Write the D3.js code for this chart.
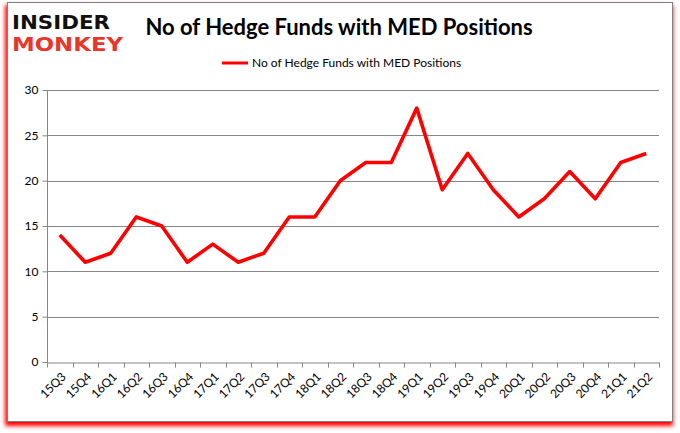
<!DOCTYPE html>
<html>
<head>
<meta charset="utf-8">
<script src="https://cdn.jsdelivr.net/npm/d3@7"></script>
<style>
  body { margin: 0; background: #fff; }
  text { font-family: Lato, "Open Sans", sans-serif; }
</style>
</head>
<body>
<svg id="chart" width="680" height="433"></svg>
<script>
const quarters = ["15Q3","15Q4","16Q1","16Q2","16Q3","16Q4","17Q1","17Q2","17Q3","17Q4",
                  "18Q1","18Q2","18Q3","18Q4","19Q1","19Q2","19Q3","19Q4","20Q1","20Q2",
                  "20Q3","20Q4","21Q1","21Q2"]
const funds = [14,11,12,16,15,11,13,11,12,16,16,20,22,22,28,19,23,19,16,18,21,18,22,23]
const yTicks = [0,5,10,15,20,25,30]

const margin = {top: 90, bottom: 71, left: 47, right: 21}
const width = 680, height = 433
const svg = d3.select("#chart")

// frame with red shadow
const defs = svg.append("defs")
defs.append("filter").attr("id", "shadow")
    .attr("x", "-5%").attr("y", "-5%").attr("width", "110%").attr("height", "110%")
    .append("feGaussianBlur").attr("stdDeviation", 2)
svg.append("rect").attr("x", 5).attr("y", 5).attr("width", 668).attr("height", 421)
    .style("fill", "#ff0000").attr("filter", "url(#shadow)")
svg.append("rect").attr("x", 7.5).attr("y", 2.5).attr("width", 665).attr("height", 419)
    .style("fill", "#fff").style("stroke", "#808080").style("stroke-width", 1)

const x = d3.scaleBand().domain(quarters).range([margin.left, width - margin.right])
const y = d3.scaleLinear().domain([0, 30]).range([height - margin.bottom, margin.top])

// gridlines
svg.append("g").selectAll("line.grid")
    .data(yTicks.filter(d => d > 0))
    .join("line")
    .attr("class", "grid")
    .attr("x1", margin.left).attr("x2", width - margin.right)
    .attr("y1", d => Math.round(y(d)) + 0.5).attr("y2", d => Math.round(y(d)) + 0.5)
    .style("stroke", "#868686")

// y axis
const yAxis = svg.append("g")
    .attr("transform", `translate(${margin.left + 0.5},0)`)
    .call(d3.axisLeft(y).tickValues(yTicks).tickSize(5).tickPadding(4))
yAxis.select(".domain").style("stroke", "#868686").attr("d", `M0,${y(30)}V${y(0)}`)
yAxis.selectAll("line").style("stroke", "#868686")
yAxis.selectAll("text").style("font-size", "12px").style("font-family", "Lato, 'Open Sans', sans-serif").style("fill", "#000")

// x axis
const xAxis = svg.append("g")
    .attr("transform", `translate(0,${Math.round(y(0)) + 0.5})`)
    .call(d3.axisBottom(x).tickSize(0).tickFormat(""))
xAxis.select(".domain").style("stroke", "#868686")
const edges = quarters.map(q => x(q)).concat([width - margin.right])
xAxis.selectAll("line.edge").data(edges).join("line").attr("class", "edge")
    .attr("x1", d => Math.round(d) + 0.5).attr("x2", d => Math.round(d) + 0.5)
    .attr("y1", 0).attr("y2", 5).style("stroke", "#868686")
xAxis.selectAll("text.lbl").data(quarters).join("text").attr("class", "lbl")
    .text(d => d)
    .attr("transform", d => `translate(${x(d) + x.bandwidth() / 2 + 4},${12}) rotate(-45)`)
    .attr("text-anchor", "end")
    .attr("dy", "0.35em")
    .style("font-size", "12px").style("fill", "#000")

// line
const line = d3.line().x((d, i) => x(quarters[i]) + x.bandwidth() / 2).y(d => y(d))
svg.append("path").datum(funds)
    .attr("d", line)
    .style("fill", "none").style("stroke", "#ff0000").style("stroke-width", 3.6)
    .style("stroke-linejoin", "round")

// title
svg.append("text").text("No of Hedge Funds with MED Positions")
    .attr("x", 339).attr("y", 35).attr("text-anchor", "middle")
    .style("font-size", "22px").style("font-weight", "bold").style("fill", "#000")

// legend
svg.append("line").attr("x1", 222).attr("x2", 248).attr("y1", 63).attr("y2", 63)
    .style("stroke", "#ff0000").style("stroke-width", 3)
svg.append("text").text("No of Hedge Funds with MED Positions")
    .attr("x", 252).attr("y", 67)
    .style("font-size", "12px").style("fill", "#000")

// logo
svg.append("text").text("INSIDER").attr("x", 12).attr("y", 29)
    .attr("textLength", 98).attr("lengthAdjust", "spacingAndGlyphs")
    .style("font-size", "19px").style("font-weight", 900).style("fill", "#111")
    .style("font-family", "'DejaVu Sans', sans-serif")
svg.append("text").text("MONKEY").attr("x", 12).attr("y", 51)
    .attr("textLength", 111).attr("lengthAdjust", "spacingAndGlyphs")
    .style("font-size", "19px").style("font-weight", 900).style("fill", "#e8372a")
    .style("font-family", "'DejaVu Sans', sans-serif")
</script>
</body>
</html>
